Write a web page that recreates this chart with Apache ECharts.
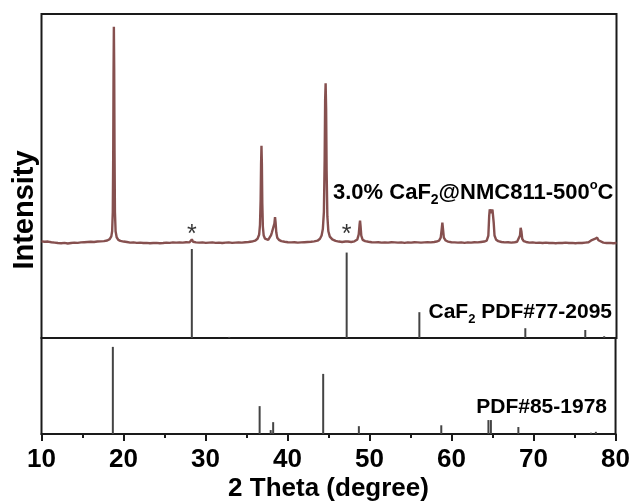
<!DOCTYPE html>
<html><head><meta charset="utf-8">
<script src="https://cdn.jsdelivr.net/npm/echarts@6/dist/echarts.min.js"></script>
<style>html,body{margin:0;padding:0;background:#fff}#c{width:633px;height:503px}</style>
</head><body><div id="c"></div>
<script>
// ---- data ----
const sampleScan = [
  [10.0,0.3],[10.4,0.1],[10.8,0.2],[11.2,-0.1],[11.6,-0.3],[12.0,-0.5],[12.4,-0.6],[12.8,-0.4],[13.2,-0.7],[13.6,-0.5],
  [14.0,-0.3],[14.4,-0.4],[14.8,-0.2],[15.2,-0.1],[15.6,0.0],[16.0,0.1],[16.4,0.0],[16.8,0.2],[17.2,0.3],[17.6,0.4],
  [18.0,0.7],[18.3,1.3],[18.5,2.6],[18.6,5],[18.68,14],[18.73,40],[18.77,78],[18.81,100],[18.85,80],[18.89,42],
  [18.94,14],[19.02,5],[19.15,2.2],[19.35,1.0],[19.6,0.5],[20.0,0.2],[20.4,0.0],[20.8,-0.3],[21.2,-0.2],[21.6,-0.4],
  [22.0,-0.3],[22.4,-0.5],[22.8,-0.4],[23.2,-0.6],[23.6,-0.5],[24.0,-0.4],[24.4,-0.6],[24.8,-0.5],[25.2,-0.3],[25.6,-0.4],
  [26.0,-0.2],[26.4,-0.3],[26.8,-0.2],[27.2,-0.3],[27.6,-0.1],[28.0,-0.2],[28.2,0.2],[28.3,1.2],[28.45,0.1],[28.8,-0.2],
  [29.2,-0.3],[29.6,-0.2],[30.0,-0.4],[30.4,-0.3],[30.8,-0.2],[31.2,-0.4],[31.6,-0.3],[32.0,-0.5],[32.4,-0.3],[32.8,-0.2],
  [33.2,-0.4],[33.6,-0.3],[34.0,-0.2],[34.4,-0.3],[34.8,-0.1],[35.2,0.0],[35.6,0.2],[36.0,0.6],[36.3,1.5],[36.5,3.5],
  [36.6,8],[36.68,20],[36.73,36],[36.78,44.7],[36.83,36],[36.88,18],[36.95,7],[37.05,3],[37.2,1.6],[37.4,1.0],
  [37.6,1.0],[37.8,1.6],[37.95,3.2],[38.05,4.5],[38.15,3.8],[38.25,4.5],[38.35,8.5],[38.43,11.6],[38.5,9],[38.58,4.5],
  [38.7,2.0],[38.9,1.0],[39.2,0.4],[39.6,0.1],[40.0,-0.1],[40.4,-0.2],[40.8,-0.1],[41.2,-0.3],[41.6,-0.2],[42.0,-0.1],
  [42.4,0.0],[42.8,0.1],[43.2,0.3],[43.6,0.6],[43.9,1.5],[44.1,3],[44.25,6],[44.38,14],[44.47,38],[44.53,66],
  [44.59,73.7],[44.65,62],[44.71,33],[44.8,12],[44.92,5],[45.1,2.5],[45.4,1.2],[45.8,0.5],[46.2,0.2],[46.6,0.0],
  [47.0,0.2],[47.15,0.9],[47.3,0.2],[47.7,0.0],[48.1,0.3],[48.45,1.2],[48.62,3.5],[48.72,8],[48.78,9.9],[48.84,7.5],
  [48.93,3],[49.1,1.0],[49.4,0.4],[49.8,0.1],[50.2,-0.1],[50.6,-0.2],[51.0,-0.1],[51.4,-0.3],[51.8,-0.2],[52.2,-0.3],
  [52.6,-0.1],[53.0,-0.2],[53.4,-0.3],[53.8,-0.2],[54.2,-0.4],[54.6,-0.2],[55.0,-0.3],[55.4,-0.1],[55.8,-0.2],[56.2,-0.3],
  [56.6,-0.2],[57.0,-0.1],[57.4,-0.2],[57.8,0.0],[58.1,0.2],[58.4,0.6],[58.6,2],[58.72,6],[58.8,9],[58.88,6],
  [58.98,2],[59.2,0.7],[59.5,0.2],[59.9,-0.1],[60.3,-0.2],[60.7,-0.3],[61.1,-0.2],[61.5,-0.4],[61.9,-0.2],[62.3,-0.3],
  [62.7,-0.1],[63.1,-0.2],[63.5,0.0],[63.9,0.2],[64.2,0.6],[64.4,3],[64.5,12],[64.57,15.2],[64.67,13.5],[64.77,13.8],
  [64.9,15],[64.98,14.5],[65.05,9],[65.15,3],[65.35,1.0],[65.6,0.4],[66.0,0.0],[66.4,-0.2],[66.8,-0.1],[67.2,-0.3],
  [67.6,-0.1],[67.9,0.1],[68.1,0.6],[68.25,3],[68.33,6.6],[68.42,5],[68.52,1.5],[68.7,0.4],[69.0,0.0],[69.4,-0.3],
  [69.8,-0.2],[70.2,-0.4],[70.6,-0.3],[71.0,-0.5],[71.4,-0.3],[71.8,-0.5],[72.2,-0.4],[72.6,-0.6],[73.0,-0.4],[73.4,-0.5],
  [73.8,-0.3],[74.2,-0.5],[74.6,-0.4],[75.0,-0.6],[75.4,-0.4],[75.8,-0.5],[76.2,-0.3],[76.6,-0.1],[76.8,0.2],[77.0,0.9],
  [77.2,1.8],[77.35,1.4],[77.5,1.6],[77.65,2.0],[77.8,0.8],[78.0,0.1],[78.4,-0.3],[78.8,-0.5],[79.2,-0.4],[79.6,-0.6],
  [80.0,-0.5]
];
const caf2Theta = [28.3, 32.85, 47.15, 56.0, 68.9, 76.2, 78.5];
const caf2Intensity = [100, 1.2, 96, 29, 11, 9, 2];
const nmcTheta = [18.7, 36.6, 37.95, 38.25, 44.35, 48.7, 58.75, 64.5, 64.8, 68.15, 77.0, 77.6];
const nmcIntensity = [100, 32, 4.5, 13.6, 69, 9, 10, 16, 16, 8, 1.5, 2.5];
const asteriskTheta = [28.3, 47.15];
const xMin = 10, xMax = 80, xStep = 10;
const sampleLabel = '{a|3.0% CaF}{s|2}{a|@NMC811-500}{p|o}{a|C}';
const caf2Label = '{a|CaF}{s|2}{a| PDF#77-2095}';
const nmcLabel = '{a|PDF#85-1978}';
const xName = '2 Theta (degree)';
const yName = 'Intensity';

// ---- chart ----
const FONT = 'Arial, "Liberation Sans", sans-serif';
const INK = '#1a1a1a';
const chart = echarts.init(document.getElementById('c'), null, {renderer: 'canvas'});
const pair = (xs, ys) => xs.map((x, i) => [x, ys[i]]);
const richFor = (size) => ({
  a: {fontSize: size, fontWeight: 'bold', fontFamily: FONT, color: '#000', lineHeight: size + 6},
  s: {fontSize: Math.round(size * 0.62), fontWeight: 'bold', fontFamily: FONT, color: '#000', lineHeight: Math.round(size * 0.62), verticalAlign: 'bottom'},
  p: {fontSize: Math.round(size * 0.6), fontWeight: 'bold', fontFamily: FONT, color: '#000', lineHeight: Math.round(size * 0.6), verticalAlign: 'top'}
});
const hiddenX = (gi) => ({gridIndex: gi, type: 'value', min: xMin, max: xMax, interval: xStep, show: false});
const option = {
  animation: false,
  backgroundColor: '#fff',
  grid: [
    {left: 41.5, right: 16.5, top: 14, bottom: 165, show: true, borderColor: INK, borderWidth: 2, backgroundColor: 'transparent'},
    {left: 41.5, right: 16.5, top: 14, bottom: 165, show: false},
    {left: 41.5, right: 16.5, top: 338, bottom: 68, show: true, borderColor: INK, borderWidth: 2, backgroundColor: 'transparent'}
  ],
  xAxis: [
    hiddenX(0), hiddenX(1),
    {gridIndex: 2, type: 'value', min: xMin, max: xMax, interval: xStep,
     axisLine: {show: true, lineStyle: {color: INK, width: 2}},
     axisTick: {show: true, inside: false, length: 7, lineStyle: {color: INK, width: 2}},
     minorTick: {show: true, splitNumber: 2, length: 4, lineStyle: {color: INK, width: 2}},
     splitLine: {show: false}, minorSplitLine: {show: false},
     axisLabel: {fontSize: 26, fontWeight: 'bold', fontFamily: FONT, color: '#000', margin: 13},
     name: xName, nameLocation: 'middle', nameGap: 42,
     nameTextStyle: {fontSize: 26, fontWeight: 'bold', fontFamily: FONT, color: '#000'}}
  ],
  yAxis: [
    {gridIndex: 0, type: 'value', min: -44.6, max: 105.9, show: false},
    {gridIndex: 1, type: 'value', min: 0, max: 364, show: false},
    {gridIndex: 2, type: 'value', min: 0, max: 110.2, show: false}
  ],
  series: [
    {type: 'line', xAxisIndex: 0, yAxisIndex: 0, data: sampleScan, showSymbol: false, smooth: false,
     lineStyle: {color: '#86504f', width: 2.4}, z: 3},
    {type: 'scatter', xAxisIndex: 0, yAxisIndex: 0, data: asteriskTheta.map(t => [t, 3.0]),
     symbolSize: 1, itemStyle: {color: 'rgba(0,0,0,0)'},
     label: {show: true, formatter: '*', position: 'inside', fontSize: 25, fontWeight: 'normal', fontFamily: FONT, color: '#000'}},
    {type: 'bar', xAxisIndex: 1, yAxisIndex: 1, data: pair(caf2Theta, caf2Intensity), barWidth: 2,
     itemStyle: {color: '#444'}},
    {type: 'bar', xAxisIndex: 2, yAxisIndex: 2, data: pair(nmcTheta, nmcIntensity), barWidth: 2,
     itemStyle: {color: '#444'}}
  ],
  graphic: [
    {type: 'text', x: 25, y: 210, rotation: Math.PI / 2,
     style: {text: yName, fontSize: 29, fontWeight: 'bold', fontFamily: FONT, fill: '#000', align: 'center', verticalAlign: 'middle'}},
    {type: 'text', x: 333, y: 193,
     style: {text: sampleLabel, rich: richFor(22), align: 'left', verticalAlign: 'middle', fill: '#000'}},
    {type: 'text', x: 612, y: 312,
     style: {text: caf2Label, rich: richFor(21), align: 'right', verticalAlign: 'middle', fill: '#000'}},
    {type: 'text', x: 607, y: 407,
     style: {text: nmcLabel, rich: richFor(21), align: 'right', verticalAlign: 'middle', fill: '#000'}}
  ]
};
chart.setOption(option);
</script>
</body></html>
